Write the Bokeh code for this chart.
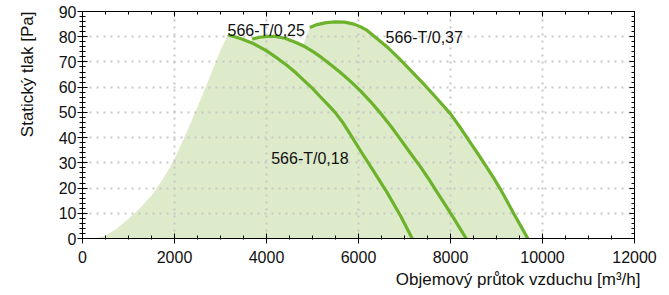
from bokeh.plotting import figure
from bokeh.models import Range1d, LinearAxis, FixedTicker, Label, Title
from bokeh.embed import file_html
from bokeh.resources import INLINE

# ---- data ----
# left limit of the working area (system curve)
edge_x = [250, 450, 700, 971, 1250, 1551, 1780, 1986, 2250, 2551, 2800, 3000, 3160]
edge_y = [0, 0.8, 3.3, 7.3, 12.0, 18.1, 24.5, 30.9, 41.5, 54.3, 65.5, 74.6, 80.8]

# fan curves: volume flow [m3/h] vs static pressure [Pa]
c18_x = [3160, 3450, 3725, 3993, 4250, 4449, 4650, 4812, 5000, 5174, 5350, 5500,
         5650, 5826, 6043, 6297, 6623, 6913, 7167]
c18_y = [80.8, 79.2, 77.2, 74.5, 71.3, 68.6, 65.5, 62.7, 59.5, 56.1, 52.8, 49.8,
         46.2, 41.2, 34.8, 27.6, 18.2, 9.0, 0]

c25_x = [3688, 3850, 4014, 4200, 4400, 4667, 4850, 5029, 5200, 5391, 5600, 5826,
         6043, 6250, 6478, 6700, 6913, 7130, 7348, 7530, 7710, 7890, 8072, 8341]
c25_y = [79.1, 79.8, 80.1, 80.1, 79.4, 77.5, 75.9, 73.9, 71.7, 69.0, 65.9, 62.3,
         58.5, 54.5, 49.7, 44.6, 39.3, 33.8, 28.4, 23.5, 18.3, 13.2, 8.0, 0]

c37_x = [4942, 5100, 5300, 5500, 5700, 5900, 6050, 6188, 6400, 6650, 6913, 7170,
         7420, 7700, 8000, 8220, 8435, 8620, 8797, 8950, 9087, 9230, 9377, 9530, 9680]
c37_y = [83.7, 84.8, 85.6, 85.9, 85.8, 85.0, 83.9, 82.5, 79.3, 75.5, 70.8, 66.0,
         61.2, 55.6, 49.4, 43.8, 37.9, 32.9, 28.0, 23.6, 19.5, 14.8, 9.8, 4.9, 0]

curve_names = ["566-T/0,18", "566-T/0,25", "566-T/0,37"]
label_pos_x = [4102, 3152, 6587]
label_pos_y = [31.9, 82.4, 79.8]

x_title = "Objemový průtok vzduchu [m³/h]"
y_title = "Statický tlak [Pa]"

x_ticks = [0, 2000, 4000, 6000, 8000, 10000, 12000]
y_ticks = [0, 10, 20, 30, 40, 50, 60, 70, 80, 90]
x_minor = [v * 500 for v in range(0, 25)]
y_minor = [v * 2 for v in range(0, 46)]

LINE = "#6cb22b"
FILL = "#ddebca"
FONT = "Liberation Sans"
TXT = "#111111"

p = figure(width=666, height=295,
           x_range=Range1d(0, 12000), y_range=Range1d(0, 90),
           output_backend="svg", toolbar_location=None,
           min_border_left=82, min_border_right=32,
           min_border_top=11, min_border_bottom=56)

xt = FixedTicker(ticks=x_ticks, minor_ticks=x_minor)
yt = FixedTicker(ticks=y_ticks, minor_ticks=y_minor)

p.xaxis.ticker = xt
p.yaxis.ticker = yt
p.xgrid.ticker = xt
p.ygrid.ticker = yt

for g in (p.xgrid, p.ygrid):
    g.grid_line_color = "#c8c8c8"
    g.grid_line_dash = "2 5"
    g.grid_line_width = 2

p.outline_line_color = "black"
p.outline_line_width = 1

# filled working area
base = [0]
a1 = p.patch(edge_x + c18_x[1:], edge_y + c18_y[1:], fill_color=FILL, line_color=None)
a2 = p.patch([c18_x[0]] + c25_x, base + c25_y, fill_color=FILL, line_color=None)
a3 = p.patch([c18_x[0]] + c37_x, base + c37_y, fill_color=FILL, line_color=None)
for r in (a1, a2, a3):
    r.level = "image"

for xs, ys in ((c18_x, c18_y), (c25_x, c25_y), (c37_x, c37_y)):
    p.line(xs, ys, line_color=LINE, line_width=3.2, line_join="round")

for name, lx, ly in zip(curve_names, label_pos_x, label_pos_y):
    p.add_layout(Label(x=lx, y=ly, text=name, text_font=FONT,
                       text_font_size="16px", text_color=TXT,
                       text_baseline="alphabetic"))

def style_axis(ax):
    ax.axis_line_color = "black"
    ax.major_tick_line_color = "black"
    ax.minor_tick_line_color = "black"
    ax.major_label_text_font = FONT
    ax.major_label_text_font_size = "16px"
    ax.major_label_text_color = TXT

xa = p.xaxis[0]
ya = p.yaxis[0]
style_axis(xa)
style_axis(ya)
xa.major_tick_in = 5
xa.major_tick_out = 5
xa.minor_tick_in = 3
xa.minor_tick_out = 1
xa.major_label_standoff = 7
ya.major_tick_in = 5
ya.major_tick_out = 5
ya.minor_tick_in = 3
ya.minor_tick_out = 3
ya.major_label_standoff = 1

# axis titles: right-aligned (x) and top-aligned (y) as in the reference
p.add_layout(Title(text=x_title, align="right", vertical_align="top",
                   offset=-6, standoff=9,
                   text_font=FONT, text_font_size="17px",
                   text_font_style="normal", text_color=TXT), "below")
p.add_layout(Title(text=y_title, align="right", vertical_align="top",
                   offset=0, standoff=34,
                   text_font=FONT, text_font_size="17px",
                   text_font_style="normal", text_color=TXT), "left")

# top and right frame ticks (no labels): majors drawn as long "minor" ticks
top_major = FixedTicker(ticks=[], minor_ticks=x_ticks)
top_minor = FixedTicker(ticks=[], minor_ticks=x_minor)
right_major = FixedTicker(ticks=[], minor_ticks=y_ticks)
right_minor = FixedTicker(ticks=[], minor_ticks=y_minor)
for tk, ln, side in ((top_major, 5, "above"), (top_minor, 3, "above"),
                     (right_major, 5, "right"), (right_minor, 3, "right")):
    ax = LinearAxis(ticker=tk, minor_tick_in=ln, minor_tick_out=0,
                    major_tick_in=0, major_tick_out=0,
                    minor_tick_line_color="black", axis_line_color="black",
                    major_label_standoff=0)
    p.add_layout(ax, side)

open("out.html", "w").write(file_html(p, INLINE))
